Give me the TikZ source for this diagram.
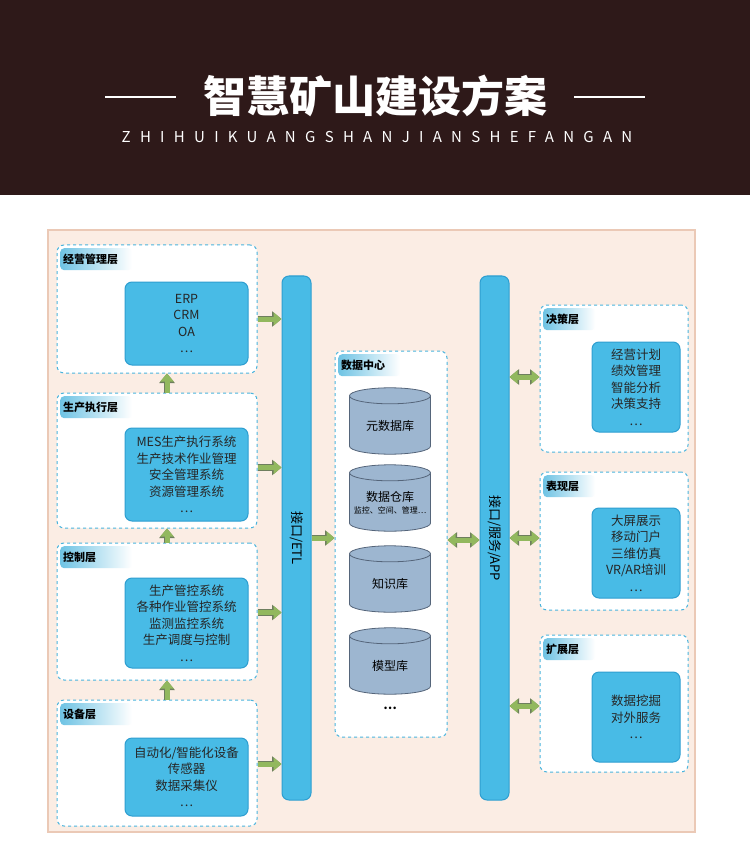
\documentclass[tikz,border=0pt]{standalone}
\usepackage{fontspec}
\setmainfont{Noto Sans CJK SC}
\usetikzlibrary{shapes.geometric,arrows.meta,calc}
\definecolor{bann}{HTML}{2E1919}
\definecolor{panel}{HTML}{FBEDE4}
\definecolor{panelb}{HTML}{EBC9B6}
\definecolor{lblue}{HTML}{4AB4DD}
\definecolor{iblue}{HTML}{48BBE6}
\definecolor{iborder}{HTML}{2E9ED0}
\definecolor{gr}{HTML}{92B85E}
\definecolor{grb}{HTML}{6E7E5E}
\definecolor{cyl}{HTML}{9DB6D0}
\definecolor{cylb}{HTML}{55657A}
\newcommand\bnode[7]{\node[#2, minimum width={(#5-#3)*1pt}, minimum height={(#6-#4)*1pt}] (#1) at ({(#3+#5)/2},{(#4+#6)/2}) {#7};}
\newcommand\cylshape[1]{%
 \draw[cylb, fill=cyl, line width=0.8pt] ([yshift=8pt]#1.south) ellipse [x radius=40.5, y radius=8];
 \fill[cyl] ([yshift=-8pt]#1.north west) rectangle ([yshift=8pt]#1.south east);
 \draw[cylb, line width=0.8pt] ([yshift=-8pt]#1.north west) -- ([yshift=8pt]#1.south west) ([yshift=-8pt]#1.north east) -- ([yshift=8pt]#1.south east);
 \draw[cylb, fill=cyl, line width=0.8pt] ([yshift=-8pt]#1.north) ellipse [x radius=40.5, y radius=8];}
\tikzset{
 layerbox/.style={draw=lblue, dashed, line width=1pt, fill=white, rounded corners=7pt, inner sep=0pt},
 innerbox/.style={draw=iborder, line width=1pt, fill=iblue, rounded corners=7pt, align=center, font=\fontsize{12.5}{16.5}\selectfont, text=black!85, inner sep=0pt},
 tabbox/.style={left color=lblue!80, right color=white, rounded corners=4pt, font=\bfseries\fontsize{11}{13}\selectfont, anchor=north west, minimum width=72pt, minimum height=22pt, text width=66pt, align=left, inner sep=3pt},
 bar/.style={draw=iborder, line width=1pt, fill=iblue, rounded corners=7pt, inner sep=0pt},
 garrow/.style={line width=5pt, draw=gr, -{Triangle[width=13pt,length=8pt]}, preaction={draw=grb, line width=6.6pt, -{Triangle[width=15pt,length=9.5pt]}}},
 gboth/.style={line width=5pt, draw=gr, {Triangle[width=13pt,length=8pt]}-{Triangle[width=13pt,length=8pt]}, preaction={draw=grb, line width=6.6pt, {Triangle[width=15pt,length=9.5pt]}-{Triangle[width=15pt,length=9.5pt]}}},
 db/.style={rectangle, minimum width=81pt, minimum height=66pt, inner sep=0pt},
 dbtext/.style={align=center, font=\fontsize{12}{15}\selectfont, yshift=-5pt}
}
\begin{document}
\begin{tikzpicture}[x=1pt,y=-1pt]
\useasboundingbox (0,0) rectangle (750,858);
\fill[white] (0,0) rectangle (750,858);
\fill[bann] (0,0) rectangle (750,195);
\node[text=white, font=\bfseries\fontsize{43}{45}\selectfont] (title) at (375,96) {智慧矿山建设方案};
\draw[white, line width=2.5pt] (105,97) -- (176,97);
\draw[white, line width=2.5pt] (574,97) -- (645,97);
\node[text=white!85, font=\fontsize{15}{16}\selectfont] (sub) at (377,137) {\addfontfeature{LetterSpace=62}ZHIHUIKUANGSHANJIANSHEFANGAN};
\bnode{panel}{draw=panelb, fill=panel, line width=1.2pt, inner sep=0pt}{48}{230}{695}{832}{}
% left layers
\bnode{L1}{layerbox}{57}{245}{257}{373}{}
\bnode{L2}{layerbox}{57}{393}{257}{528}{}
\bnode{L3}{layerbox}{57}{543}{257}{680}{}
\bnode{L4}{layerbox}{57}{700}{257}{826}{}
\node[tabbox] (t1) at (60,248) {经营管理层};
\node[tabbox] (t2) at (60,396) {生产执行层};
\node[tabbox] (t3) at (60,546) {控制层};
\node[tabbox] (t4) at (60,703) {设备层};
\bnode{I1}{innerbox}{125}{282}{248}{365}{ERP\\CRM\\OA\\…}
\bnode{I2}{innerbox}{125}{428}{248}{521}{MES生产执行系统\\生产技术作业管理\\安全管理系统\\资源管理系统\\…}
\bnode{I3}{innerbox}{125}{578}{248}{668}{生产管控系统\\各种作业管控系统\\监测监控系统\\生产调度与控制\\…}
\bnode{I4}{innerbox}{125}{738}{248}{816}{自动化/智能化设备\\传感器\\数据采集仪\\…}
% bars
\bnode{etl}{bar}{282}{276}{311}{800}{}
\node[font=\fontsize{13}{15}\selectfont, rotate=-90] (etlt) at (etl) {接口/ETL};
\bnode{app}{bar}{480}{276}{509}{800}{}
\node[font=\fontsize{13}{15}\selectfont, rotate=-90] (appt) at (app) {接口/服务/APP};
% data center
\bnode{dc}{layerbox}{335}{351}{447}{737}{}
\node[tabbox, minimum width=62pt, text width=56pt] (tdc) at (338,354) {数据中心};
\node[db] (d1) at (390,421) {};
\node[db] (d2) at (390,498) {};
\node[db] (d3) at (390,579) {};
\node[db] (d4) at (390,661) {};
\cylshape{d1}\cylshape{d2}\cylshape{d3}\cylshape{d4}
\node[dbtext] (d1t) at (d1) {元数据库};
\node[dbtext] (d2t) at (d2) {数据仓库\\[-3pt]{\fontsize{8}{10}\selectfont 监控、空间、管理…}};
\node[dbtext] (d3t) at (d3) {知识库};
\node[dbtext] (d4t) at (d4) {模型库};
\node[font=\bfseries\fontsize{12}{12}\selectfont] (dots) at (390,708) {…};
% right layers
\bnode{R1}{layerbox}{540}{305}{688}{452}{}
\bnode{R2}{layerbox}{540}{472}{688}{610}{}
\bnode{R3}{layerbox}{540}{635}{688}{772}{}
\node[tabbox, minimum width=52pt, text width=46pt] (r1t) at (543,308) {决策层};
\node[tabbox, minimum width=52pt, text width=46pt] (r2t) at (543,475) {表现层};
\node[tabbox, minimum width=52pt, text width=46pt] (r3t) at (543,638) {扩展层};
\bnode{J1}{innerbox}{592}{342}{680}{432}{经营计划\\绩效管理\\智能分析\\决策支持\\…}
\bnode{J2}{innerbox}{592}{508}{680}{598}{大屏展示\\移动门户\\三维仿真\\VR/AR培训\\…}
\bnode{J3}{innerbox}{592}{672}{680}{762}{数据挖掘\\对外服务\\…}
% arrows
\draw[garrow] ([yshift=-10pt]L1.east) -- ([yshift=-10pt]L1.east -| etl.west);
\draw[garrow] ([yshift=-7pt]L2.east) -- ([yshift=-7pt]L2.east -| etl.west);
\draw[garrow] ([yshift=-1pt]L3.east) -- ([yshift=-1pt]L3.east -| etl.west);
\draw[garrow] ([yshift=-1pt]L4.east) -- ([yshift=-1pt]L4.east -| etl.west);
\draw[garrow] ([xshift=10pt]L2.north) -- ([xshift=10pt]L1.south);
\draw[garrow] ([xshift=10pt]L3.north) -- ([xshift=10pt]L2.south);
\draw[garrow] ([xshift=10pt]L4.north) -- ([xshift=10pt]L3.south);
\draw[garrow] (etl.east |- 0,538) -- (dc.west |- 0,538);
\draw[gboth] (dc.east |- 0,540) -- (app.west |- 0,540);
\draw[gboth] (app.east |- 0,377) -- (R1.west |- 0,377);
\draw[gboth] (app.east |- 0,538) -- (R2.west |- 0,538);
\draw[gboth] (app.east |- 0,706) -- (R3.west |- 0,706);
\end{tikzpicture}
\end{document}
